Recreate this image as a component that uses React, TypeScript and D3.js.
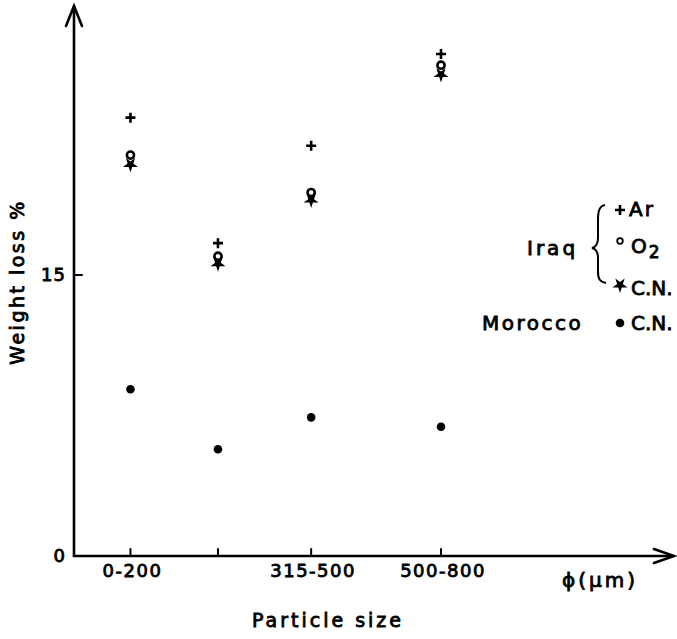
import React from "react";
import * as d3 from "d3";

// Data
// x position of each size class along the particle-size axis (µm, roughly class middle)
const sizePositions = [100, 255, 420, 650];
const sizeLabels = ["0-200", "", "315-500", "500-800"];
const iraqAr = [23.4, 16.7, 21.9, 26.8];
const iraqO2 = [21.4, 16.0, 19.4, 26.2];
const iraqCN = [20.9, 15.6, 19.0, 25.7];
const moroccoCN = [8.9, 5.7, 7.4, 6.9];
const yTicks = [0, 15];

const W = 677;
const H = 639;
const origin = { x: 74, y: 556 };
const FONT = "'DejaVu Sans', sans-serif";

const x = d3.scaleLinear().domain([0, 650]).range([origin.x, 441]);
const y = d3.scaleLinear().domain([0, 15]).range([origin.y, 275]);

const starPath = d3.symbol().type(d3.symbolStar).size(70)() as string;

const Plus = ({ cx, cy }: { cx: number; cy: number }) => (
  <path
    d={`M${cx - 5},${cy}H${cx + 5}M${cx},${cy - 5}V${cy + 5}`}
    stroke="#000"
    strokeWidth={2.6}
  />
);
const Ring = ({ cx, cy }: { cx: number; cy: number }) => (
  <circle cx={cx} cy={cy} r={3.6} fill="#fff" stroke="#000" strokeWidth={2.6} />
);
const Star = ({ cx, cy }: { cx: number; cy: number }) => (
  <path d={starPath} transform={`translate(${cx},${cy}) rotate(180)`} fill="#000" />
);
const Dot = ({ cx, cy }: { cx: number; cy: number }) => (
  <circle cx={cx} cy={cy} r={4.3} fill="#000" />
);

// text looks hand lettered: spaced out and a bit heavy
const txt = { stroke: "#000", strokeWidth: 0.85, fill: "#000" };

const App = () => {
  const axisEndX = W - 3;
  const axisTopY = 6;
  return (
    <svg
      width={W}
      height={H}
      style={{ position: "absolute", left: 0, top: 0, background: "#fff" }}
      fontFamily={FONT}
    >
      {/* axes */}
      <g stroke="#000" strokeWidth={2.6} fill="none" strokeLinecap="round">
        <line x1={origin.x} y1={origin.y} x2={origin.x} y2={axisTopY} />
        <path d={`M${origin.x - 8},${axisTopY + 20}L${origin.x},${axisTopY}L${origin.x + 8},${axisTopY + 20}`} />
        <line x1={origin.x} y1={origin.y} x2={axisEndX} y2={origin.y} />
        <path d={`M${axisEndX - 20},${origin.y - 7}L${axisEndX},${origin.y}L${axisEndX - 20},${origin.y + 7}`} />
        {sizePositions.map((p, i) => (
          <line key={i} x1={x(p)} x2={x(p)} y1={origin.y} y2={origin.y - 7} strokeWidth={2} />
        ))}
        {yTicks
          .filter((t) => t > 0)
          .map((t) => (
            <line key={t} x1={origin.x} x2={origin.x + 8} y1={y(t)} y2={y(t)} strokeWidth={2} />
          ))}
      </g>

      {/* tick labels */}
      <g {...txt}>
        {yTicks.map((t) => (
          <text key={t} x={origin.x - 8} y={y(t)} dy="0.36em" textAnchor="end" fontSize={18} letterSpacing={1}>
            {t}
          </text>
        ))}
        {sizeLabels.map((l, i) => (
          <text
            key={i}
            x={x(sizePositions[i]) + 2}
            y={origin.y + 21}
            textAnchor="middle"
            fontSize={18}
            letterSpacing={1.5}
          >
            {l}
          </text>
        ))}
        <text x={562} y={origin.y + 31} fontSize={20} letterSpacing={3}>
          ϕ(μm)
        </text>
        <text x={328} y={origin.y + 71} textAnchor="middle" fontSize={19} letterSpacing={3}>
          Particle size
        </text>
        <text
          transform={`translate(24,282) rotate(-90)`}
          textAnchor="middle"
          fontSize={19}
          letterSpacing={2.5}
        >
          Weight loss %
        </text>
      </g>

      {/* points */}
      {sizePositions.map((p, i) => (
        <g key={i}>
          <Plus cx={x(p)} cy={y(iraqAr[i])} />
          <Star cx={x(p)} cy={y(iraqCN[i])} />
          <Ring cx={x(p)} cy={y(iraqO2[i])} />
          <Dot cx={x(p)} cy={y(moroccoCN[i])} />
        </g>
      ))}

      {/* legend */}
      <g fontSize={20} letterSpacing={2}>
        <Plus cx={620} cy={210} />
        <circle cx={620} cy={241} r={2.8} fill="#fff" stroke="#000" strokeWidth={1.8} />
        <Star cx={620} cy={285} />
        <Dot cx={620} cy={323} />
        <path
          d="M605,205 C599,206 598,212 598,220 L598,238 C598,244 596,247 592,248 C596,249 598,252 598,258 L598,272 C598,279 600,282 606,283"
          fill="none"
          stroke="#000"
          strokeWidth={2}
        />
        <g {...txt}>
          <text x={629} y={216}>Ar</text>
          <text x={631} y={253}>
            O<tspan dy={5} fontSize={17}>2</tspan>
          </text>
          <text x={631} y={295} letterSpacing={0}>C.N.</text>
          <text x={527} y={255} letterSpacing={3}>Iraq</text>
          <text x={482} y={330} letterSpacing={2.5}>Morocco</text>
          <text x={631} y={330} letterSpacing={0}>C.N.</text>
        </g>
      </g>
    </svg>
  );
};

export default App;
